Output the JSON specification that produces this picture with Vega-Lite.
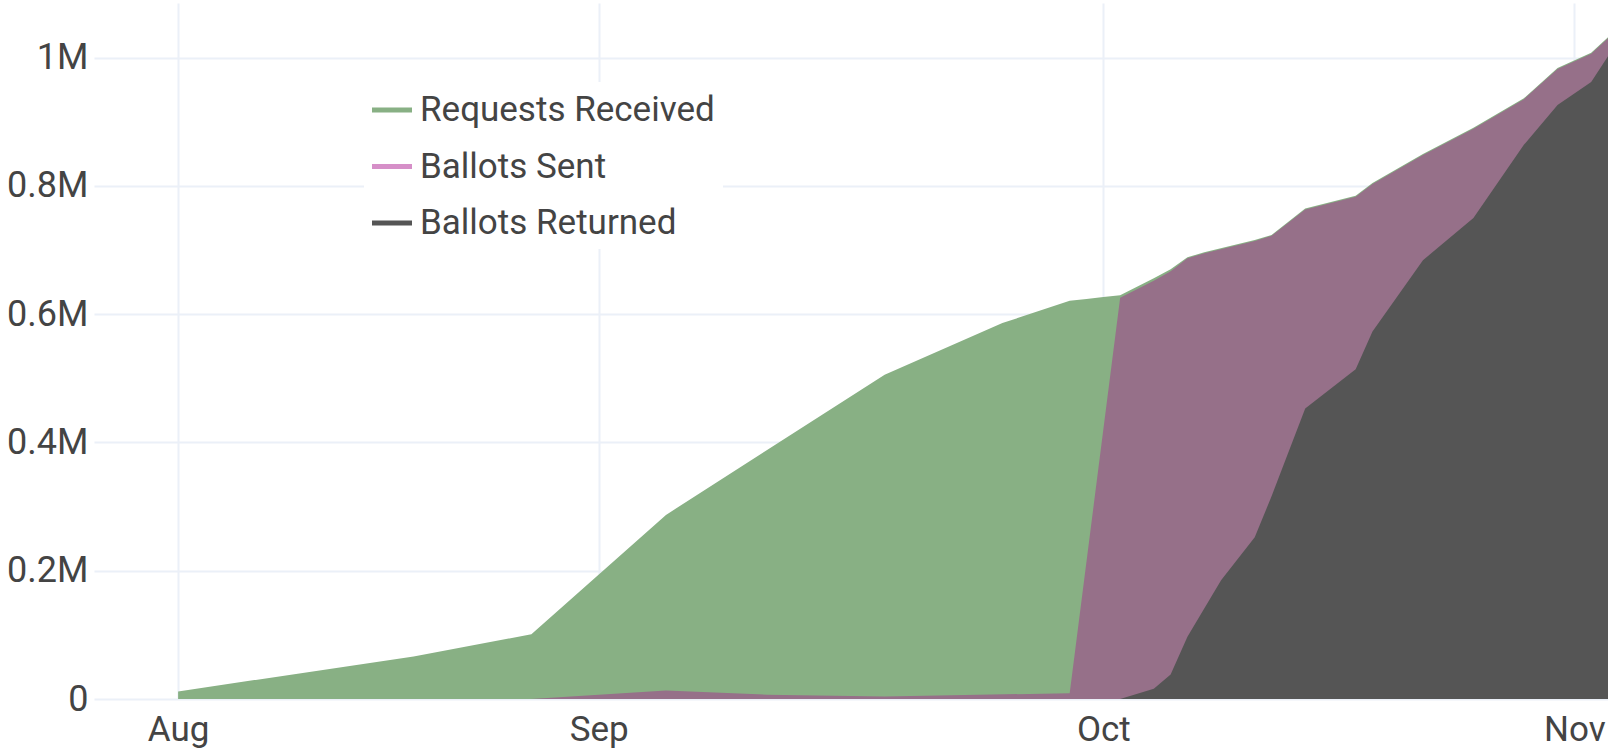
{
  "$schema": "https://vega.github.io/schema/vega-lite/v6.json",
  "width": 1514,
  "height": 696,
  "padding": {"left": 6, "top": 3, "right": 2, "bottom": 2},
  "background": "white",
  "config": {"view": {"stroke": null}, "font": "Roboto"},
  "data": {
    "values": [
      {"date": "2020-08-07", "series": "Requests Received", "value": 11800},
      {"date": "2020-08-21", "series": "Requests Received", "value": 66400},
      {"date": "2020-08-28", "series": "Requests Received", "value": 100800},
      {"date": "2020-09-05", "series": "Requests Received", "value": 287000},
      {"date": "2020-09-18", "series": "Requests Received", "value": 505500},
      {"date": "2020-09-25", "series": "Requests Received", "value": 586000},
      {"date": "2020-09-29", "series": "Requests Received", "value": 621000},
      {"date": "2020-09-30", "series": "Requests Received", "value": 623500},
      {"date": "2020-10-01", "series": "Requests Received", "value": 626700},
      {"date": "2020-10-02", "series": "Requests Received", "value": 629500},
      {"date": "2020-10-04", "series": "Requests Received", "value": 656000},
      {"date": "2020-10-05", "series": "Requests Received", "value": 670000},
      {"date": "2020-10-06", "series": "Requests Received", "value": 688500},
      {"date": "2020-10-07", "series": "Requests Received", "value": 696500},
      {"date": "2020-10-10", "series": "Requests Received", "value": 715500},
      {"date": "2020-10-11", "series": "Requests Received", "value": 723500},
      {"date": "2020-10-13", "series": "Requests Received", "value": 764500},
      {"date": "2020-10-16", "series": "Requests Received", "value": 784500},
      {"date": "2020-10-17", "series": "Requests Received", "value": 804500},
      {"date": "2020-10-20", "series": "Requests Received", "value": 849500},
      {"date": "2020-10-23", "series": "Requests Received", "value": 890500},
      {"date": "2020-10-26", "series": "Requests Received", "value": 936500},
      {"date": "2020-10-28", "series": "Requests Received", "value": 983500},
      {"date": "2020-10-30", "series": "Requests Received", "value": 1007500},
      {"date": "2020-10-31", "series": "Requests Received", "value": 1031500},
      {"date": "2020-08-28", "series": "Ballots Sent", "value": 0},
      {"date": "2020-09-05", "series": "Ballots Sent", "value": 13400},
      {"date": "2020-09-11", "series": "Ballots Sent", "value": 6700},
      {"date": "2020-09-18", "series": "Ballots Sent", "value": 4000},
      {"date": "2020-09-29", "series": "Ballots Sent", "value": 9000},
      {"date": "2020-10-02", "series": "Ballots Sent", "value": 625500},
      {"date": "2020-10-04", "series": "Ballots Sent", "value": 652000},
      {"date": "2020-10-05", "series": "Ballots Sent", "value": 667000},
      {"date": "2020-10-06", "series": "Ballots Sent", "value": 687000},
      {"date": "2020-10-07", "series": "Ballots Sent", "value": 695000},
      {"date": "2020-10-10", "series": "Ballots Sent", "value": 714000},
      {"date": "2020-10-11", "series": "Ballots Sent", "value": 722000},
      {"date": "2020-10-13", "series": "Ballots Sent", "value": 763000},
      {"date": "2020-10-16", "series": "Ballots Sent", "value": 783000},
      {"date": "2020-10-17", "series": "Ballots Sent", "value": 803000},
      {"date": "2020-10-20", "series": "Ballots Sent", "value": 848000},
      {"date": "2020-10-23", "series": "Ballots Sent", "value": 889000},
      {"date": "2020-10-26", "series": "Ballots Sent", "value": 935000},
      {"date": "2020-10-28", "series": "Ballots Sent", "value": 982000},
      {"date": "2020-10-30", "series": "Ballots Sent", "value": 1006000},
      {"date": "2020-10-31", "series": "Ballots Sent", "value": 1030000},
      {"date": "2020-10-02", "series": "Ballots Returned", "value": 0},
      {"date": "2020-10-04", "series": "Ballots Returned", "value": 16000},
      {"date": "2020-10-05", "series": "Ballots Returned", "value": 38000},
      {"date": "2020-10-06", "series": "Ballots Returned", "value": 97000},
      {"date": "2020-10-08", "series": "Ballots Returned", "value": 185000},
      {"date": "2020-10-10", "series": "Ballots Returned", "value": 252000},
      {"date": "2020-10-11", "series": "Ballots Returned", "value": 316000},
      {"date": "2020-10-13", "series": "Ballots Returned", "value": 453000},
      {"date": "2020-10-16", "series": "Ballots Returned", "value": 514000},
      {"date": "2020-10-17", "series": "Ballots Returned", "value": 573000},
      {"date": "2020-10-20", "series": "Ballots Returned", "value": 684000},
      {"date": "2020-10-23", "series": "Ballots Returned", "value": 750000},
      {"date": "2020-10-26", "series": "Ballots Returned", "value": 864000},
      {"date": "2020-10-28", "series": "Ballots Returned", "value": 926000},
      {"date": "2020-10-30", "series": "Ballots Returned", "value": 962000},
      {"date": "2020-10-31", "series": "Ballots Returned", "value": 1002000}
    ]
  },
  "encoding": {
    "x": {
      "field": "date",
      "type": "temporal",
      "scale": {
        "type": "utc",
        "domain": [
          {"year": 2020, "month": 8, "date": 2, "utc": true},
          {"year": 2020, "month": 10, "date": 31, "utc": true}
        ]
      },
      "axis": {
        "values": [
          {"year": 2020, "month": 8, "date": 7, "utc": true},
          {"year": 2020, "month": 9, "date": 1, "utc": true},
          {"year": 2020, "month": 10, "date": 1, "utc": true},
          {"year": 2020, "month": 10, "date": 29, "utc": true}
        ],
        "labelExpr": "utcFormat(time(datum.value) + 432000000, '%b')",
        "title": null,
        "grid": true,
        "gridColor": "#EBF0F8",
        "gridWidth": 2,
        "ticks": false,
        "tickSize": 0,
        "domain": false,
        "labelFontSize": 35,
        "labelColor": "#444444",
        "labelPadding": 13,
        "labelFlush": false,
        "labelOverlap": false
      }
    },
    "y": {
      "field": "value",
      "type": "quantitative",
      "stack": null,
      "scale": {"domain": [0, 1085000], "nice": false},
      "axis": {
        "values": [0, 200000, 400000, 600000, 800000, 1000000],
        "labelExpr": "datum.value === 0 ? '0' : format(datum.value / 1000000, '~g') + 'M'",
        "title": null,
        "grid": true,
        "gridColor": "#EBF0F8",
        "gridWidth": 2,
        "ticks": false,
        "tickSize": 0,
        "domain": false,
        "labelFontSize": 36,
        "labelColor": "#444444",
        "labelPadding": 6,
        "minExtent": 86,
        "maxExtent": 86
      }
    }
  },
  "layer": [
    {
      "transform": [{"filter": "datum.series === 'Requests Received'"}],
      "mark": {"type": "area", "opacity": 1},
      "encoding": {
        "color": {
          "field": "series",
          "type": "nominal",
          "scale": {
            "domain": ["Requests Received", "Ballots Sent", "Ballots Returned"],
            "range": ["#88B084", "#D68FC8", "#555555"]
          },
          "legend": {
            "orient": "none",
            "legendX": 270,
            "legendY": 79,
            "title": null,
            "fillColor": "white",
            "padding": 8,
            "symbolType": "M-1,-0.12H1V0.12H-1Z",
            "symbolSize": 1600,
            "symbolStrokeWidth": 0,
            "symbolOpacity": 1,
            "labelFontSize": 35,
            "labelColor": "#444444",
            "labelOffset": 8,
            "labelLimit": 0,
            "rowPadding": 18.5
          }
        }
      }
    },
    {
      "transform": [{"filter": "datum.series === 'Ballots Sent'"}],
      "mark": {"type": "area", "color": "#967089", "opacity": 1}
    },
    {
      "transform": [{"filter": "datum.series === 'Ballots Returned'"}],
      "mark": {"type": "area", "opacity": 1},
      "encoding": {
        "color": {
          "field": "series",
          "type": "nominal",
          "scale": {
            "domain": ["Requests Received", "Ballots Sent", "Ballots Returned"],
            "range": ["#88B084", "#D68FC8", "#555555"]
          }
        }
      }
    }
  ]
}
